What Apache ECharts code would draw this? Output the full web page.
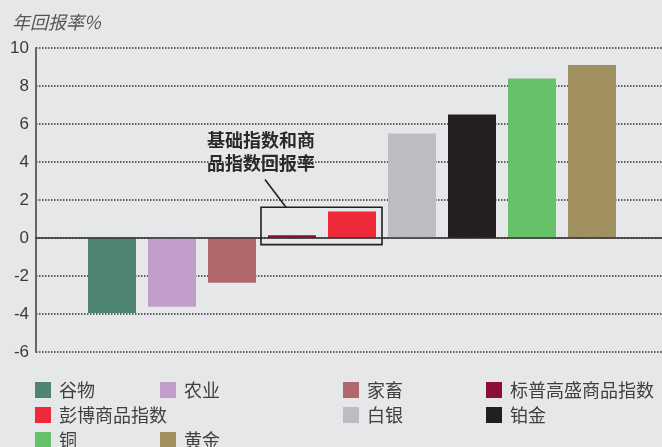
<!DOCTYPE html>
<html>
<head>
<meta charset="utf-8">
<script src="https://cdn.jsdelivr.net/npm/echarts@6/dist/echarts.min.js"></script>
<style>
html,body{margin:0;padding:0;background:#e6e7e9;}
#c{width:662px;height:447px;}
</style>
</head>
<body>
<div id="c"></div>
<script>
// ---- data ----
var categories = ['谷物','农业','家畜','标普高盛商品指数','彭博商品指数','白银','铂金','铜','黄金'];
var values = [-3.95, -3.62, -2.35, 0.14, 1.4, 5.5, 6.5, 8.4, 9.1];
var colors = ['#4e8572','#c29dc9','#b0686c','#8b0d3a','#ee2a3a','#bcbdc0','#231f20','#66c16a','#a28f5f'];
var yTicks = [-6,-4,-2,0,2,4,6,8,10];
var titleText = '年回报率%';
var noteText = '基础指数和商\n品指数回报率';

var FONT = '"Liberation Sans","Noto Sans CJK SC",sans-serif';
var CJK = '"Noto Sans CJK SC",sans-serif';
var yMin = yTicks[0], yMax = yTicks[yTicks.length-1];

var series = categories.map(function(name, i){
  var d = categories.map(function(c, j){ return j === i ? values[i] : '-'; });
  return {
    name: name, type: 'bar', stack: 'all', xAxisIndex: 0, yAxisIndex: 0,
    barWidth: 48, data: d, itemStyle: {color: colors[i]}, z: 2
  };
});

// legend grid: [column, row] for each category
var legendCols = [35, 160, 343, 486];
var legendCell = [[0,0],[1,0],[2,0],[3,0],[0,1],[2,1],[3,1],[0,2],[1,2]];
var legends = categories.map(function(name, i){
  return {
    data: [name], left: legendCols[legendCell[i][0]], top: 381 + legendCell[i][1] * 25,
    padding: 0, itemWidth: 16, itemHeight: 16, icon: 'rect', selectedMode: false,
    textStyle: {fontFamily: CJK, fontSize: 18, color: '#404040', lineHeight: 16, padding: [0,0,0,3]}
  };
});

var option = {
  backgroundColor: '#e6e7e9',
  animation: false,
  title: {text: titleText, left: 12, top: 13, padding: 0,
    textStyle: {fontFamily: CJK, fontSize: 18, fontStyle: 'italic', fontWeight: 'normal', color: '#555'}},
  legend: legends,
  grid: [
    {left: 82, right: 40, top: 48, height: 304},
    {left: 36, right: 0, top: 48, height: 304}
  ],
  xAxis: [
    {type: 'category', data: categories, gridIndex: 0, show: false},
    {type: 'value', gridIndex: 1, min: 0, max: 1,
      axisLine: {show: true, onZero: true, lineStyle: {color: '#333', width: 1.5}},
      axisTick: {show: false}, axisLabel: {show: false}, splitLine: {show: false}, z: 5}
  ],
  yAxis: [
    {type: 'value', gridIndex: 0, min: yMin, max: yMax, interval: 2, show: false},
    {type: 'value', gridIndex: 1, min: yMin, max: yMax, interval: 2,
      axisLine: {show: true, onZero: false, lineStyle: {color: '#666', width: 2}},
      axisTick: {show: false},
      axisLabel: {fontFamily: FONT, fontSize: 17, color: '#3a3a3a', margin: 7},
      splitLine: {show: true, lineStyle: {color: '#333', width: 1.5, type: [1.5, 1.5]}}}
  ],
  series: series
};

var chart = echarts.init(document.getElementById('c'));
chart.setOption(option);

// annotation box around the two index bars, positioned through the axes
var c3 = chart.convertToPixel({xAxisIndex: 0}, categories[3]);
var c4 = chart.convertToPixel({xAxisIndex: 0}, categories[4]);
var band = c4 - c3;
var bl = c3 - band / 2 - 1, br = c4 + band / 2;
var bt = chart.convertToPixel({yAxisIndex: 0}, 1.62);
var bb = chart.convertToPixel({yAxisIndex: 0}, -0.35);
var ty = chart.convertToPixel({yAxisIndex: 0}, 4.53);
var ly = chart.convertToPixel({yAxisIndex: 0}, 3.08);

chart.setOption({
  graphic: [
    {type: 'rect', shape: {x: bl, y: bt, width: br - bl, height: bb - bt},
      style: {fill: null, stroke: '#231f20', lineWidth: 1.6}, z: 10},
    {type: 'line', shape: {x1: bl + 4, y1: ly, x2: bl + 25, y2: bt},
      style: {stroke: '#231f20', lineWidth: 1.6}, z: 10},
    {type: 'text', x: bl, y: ty, z: 10,
      style: {text: noteText, fontFamily: CJK, fontSize: 18, fontWeight: 'bold', lineHeight: 23,
        fill: '#2a2a2a', align: 'center', verticalAlign: 'middle'}}
  ]
});
</script>
</body>
</html>
